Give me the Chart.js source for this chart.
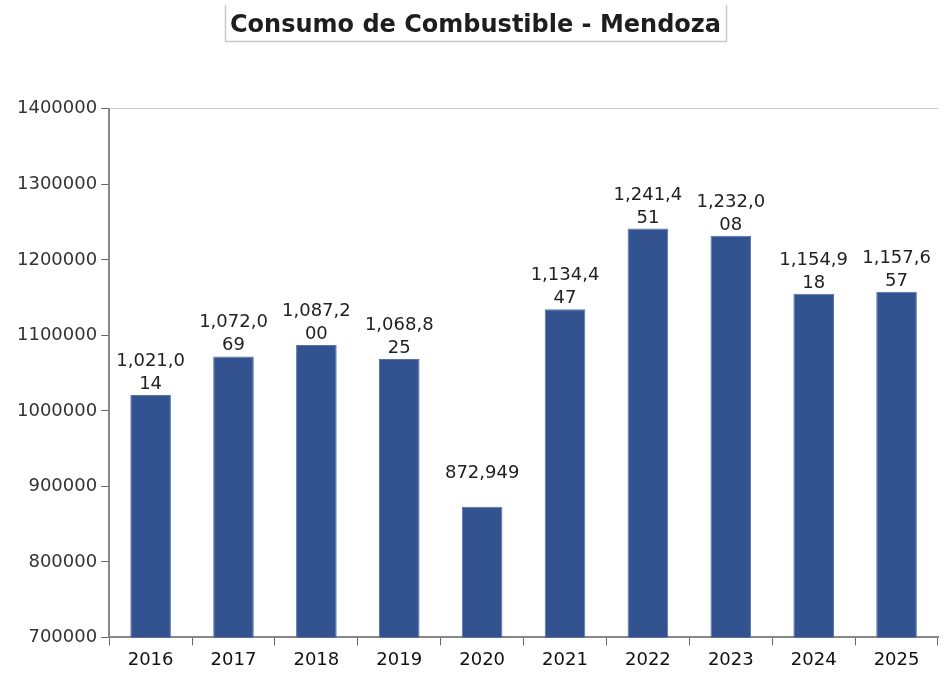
<!DOCTYPE html>
<html>
<head>
<meta charset="utf-8">
<script src="https://cdn.jsdelivr.net/npm/chart.js@4"></script>
<style>
  html, body { margin: 0; padding: 0; background: #fff; }
  #wrap { width: 944px; height: 677px; }
</style>
</head>
<body>
<div id="wrap"><canvas id="myChart"></canvas></div>
<script>
const years = ['2016', '2017', '2018', '2019', '2020', '2021', '2022', '2023', '2024', '2025'];
const consumo = [1021014, 1072069, 1087200, 1068825, 872949, 1134447, 1241451, 1232008, 1154918, 1157657];
const yTicks = [700000, 800000, 900000, 1000000, 1100000, 1200000, 1300000, 1400000];

const FONT = '"DejaVu Sans", Verdana, sans-serif';

// "1,021,014" -> "1,021,0" / "14" (same wrap as the original)
function wrapLabel(v) {
  const s = v.toLocaleString('en-US');
  if (s.length <= 7) return [s, ''];
  return [s.slice(0, 7), s.slice(7)];
}

const barLabels = {
  id: 'barLabels',
  afterDatasetsDraw(chart) {
    const ctx = chart.ctx;
    const meta = chart.getDatasetMeta(0);
    ctx.save();
    ctx.font = '18px ' + FONT;
    ctx.fillStyle = '#222';
    ctx.textAlign = 'center';
    ctx.textBaseline = 'alphabetic';
    meta.data.forEach((bar, i) => {
      const lines = wrapLabel(consumo[i]);
      ctx.fillText(lines[1], bar.x, bar.y - 6);
      ctx.fillText(lines[0], bar.x, bar.y - 29);
    });
    ctx.restore();
  }
};

const titleBox = {
  id: 'titleBox',
  afterDraw(chart) {
    const ctx = chart.ctx;
    const t = chart.options.plugins.title;
    const tb = chart.titleBlock;
    ctx.save();
    ctx.font = 'bold 24px ' + FONT;
    const w = ctx.measureText(t.text).width;
    const cx = (tb.left + tb.right) / 2;
    const l = Math.round(cx - w / 2 - 5) + 0.5;
    const r = Math.round(cx + w / 2 + 5) + 0.5;
    ctx.strokeStyle = '#c8c8c8';
    ctx.lineWidth = 1.5;
    ctx.beginPath();
    ctx.moveTo(l, 5);
    ctx.lineTo(l, 41.5);
    ctx.lineTo(r, 41.5);
    ctx.lineTo(r, 5);
    ctx.stroke();
    ctx.restore();
  }
};

new Chart(document.getElementById('myChart'), {
  type: 'bar',
  data: {
    labels: years,
    datasets: [{
      data: consumo,
      backgroundColor: '#32538f',
      borderColor: '#5572aa',
      borderWidth: { top: 1, left: 1, right: 1, bottom: 0 },
      categoryPercentage: 1,
      barPercentage: 0.49
    }]
  },
  options: {
    responsive: true,
    maintainAspectRatio: false,
    animation: false,
    layout: { padding: { left: 13, right: 6, top: 0, bottom: 2 } },
    plugins: {
      legend: { display: false },
      tooltip: { enabled: false },
      title: {
        display: true,
        text: 'Consumo de Combustible - Mendoza',
        color: '#1e1e1e',
        font: { family: FONT, size: 24, weight: 'bold' },
        padding: { top: 11, bottom: 69 }
      }
    },
    scales: {
      x: {
        offset: true,
        border: { color: '#888', width: 2 },
        grid: { offset: true, drawOnChartArea: false, tickLength: 8, tickColor: '#666' },
        ticks: {
          color: '#111',
          padding: 4,
          font: { family: FONT, size: 18 }
        }
      },
      y: {
        min: yTicks[0],
        max: yTicks[yTicks.length - 1],
        afterBuildTicks(axis) { axis.ticks = yTicks.map(v => ({ value: v })); },
        border: { color: '#888', width: 2 },
        grid: {
          drawOnChartArea: true,
          color: c => c.tick && c.tick.value === 1400000 ? '#ccc' : 'rgba(0,0,0,0)',
          tickColor: '#666',
          tickLength: 8
        },
        ticks: {
          color: '#333',
          padding: 4,
          font: { family: FONT, size: 18 },
          callback: v => String(v)
        }
      }
    }
  },
  plugins: [barLabels, titleBox]
});
</script>
</body>
</html>
